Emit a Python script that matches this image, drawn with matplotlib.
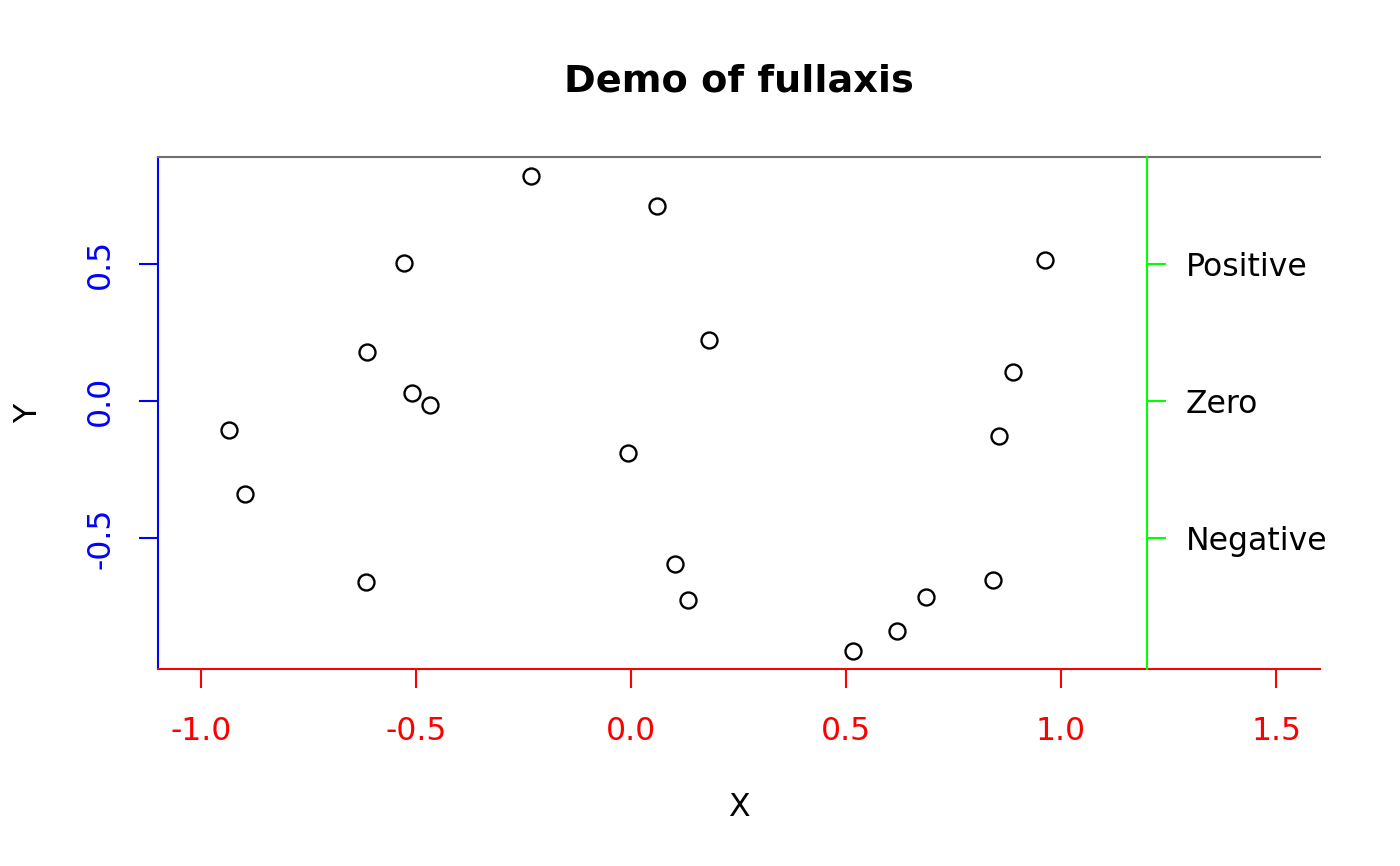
import matplotlib
matplotlib.use('Agg')
import matplotlib.pyplot as plt
import numpy as np

# points
x = [-0.233, 0.061, -0.528, 0.963, -0.614, 0.181, 0.888, -0.509, -0.467, -0.935,
     0.856, -0.007, -0.898, 0.102, -0.616, 0.842, 0.133, 0.686, 0.619, 0.516]
y = [0.821, 0.712, 0.504, 0.515, 0.179, 0.223, 0.106, 0.029, -0.015, -0.106,
     -0.128, -0.190, -0.339, -0.595, -0.661, -0.653, -0.726, -0.715, -0.839, -0.912]

xticks = [-1.0, -0.5, 0.0, 0.5, 1.0, 1.5]
yticks = [-0.5, 0.0, 0.5]
side_ticks = [0.5, 0.0, -0.5]
side_labels = ['Positive', 'Zero', 'Negative']

fs = 22.7
fig = plt.figure(figsize=(14, 8.66), dpi=100)
ax = fig.add_axes([158/1400, 1-669/866, (1320-158)/1400, (669-157)/866])

ax.plot(x, y, 'o', mfc='none', mec='black', ms=11.5, mew=1.7)
ax.set_xlim(-1.1, 1.602)
ax.set_ylim(-0.978, 0.8905)

# bottom axis red
ax.spines['bottom'].set_color('red')
ax.spines['bottom'].set_linewidth(1.5)
ax.set_xticks(xticks)
ax.set_xticklabels(['%.1f' % v for v in xticks])
ax.tick_params(axis='x', colors='red', length=14, width=1.5, pad=20, labelsize=fs)

# left axis blue
ax.spines['left'].set_color('blue')
ax.spines['left'].set_linewidth(1.5)
ax.set_yticks(yticks)
ax.set_yticklabels(['%.1f' % v for v in yticks], rotation=90, va='center')
ax.tick_params(axis='y', colors='blue', length=14, width=1.5, pad=16, labelsize=fs)

ax.spines['top'].set_color('#707070')
ax.spines['top'].set_linewidth(1.5)
ax.spines['right'].set_visible(False)

# green axis at x = 1.2
ax2 = ax.twinx()
ax2.set_ylim(ax.get_ylim())
for s in ['left', 'top', 'bottom']:
    ax2.spines[s].set_visible(False)
ax2.spines['right'].set_position(('data', 1.2))
ax2.spines['right'].set_color('#00ff00')
ax2.spines['right'].set_linewidth(1.5)
ax2.set_yticks(side_ticks)
ax2.set_yticklabels(side_labels)
ax2.tick_params(axis='y', colors='#00ff00', labelcolor='black', length=14,
                width=1.5, pad=14, labelsize=fs)

ax.set_xlabel('X', fontsize=fs, labelpad=32)
ax.set_ylabel('Y', fontsize=fs, labelpad=30)
ax.set_title('Demo of fullaxis', fontsize=27.5, fontweight='bold', pad=47)

fig.savefig('out.png', dpi=100)
